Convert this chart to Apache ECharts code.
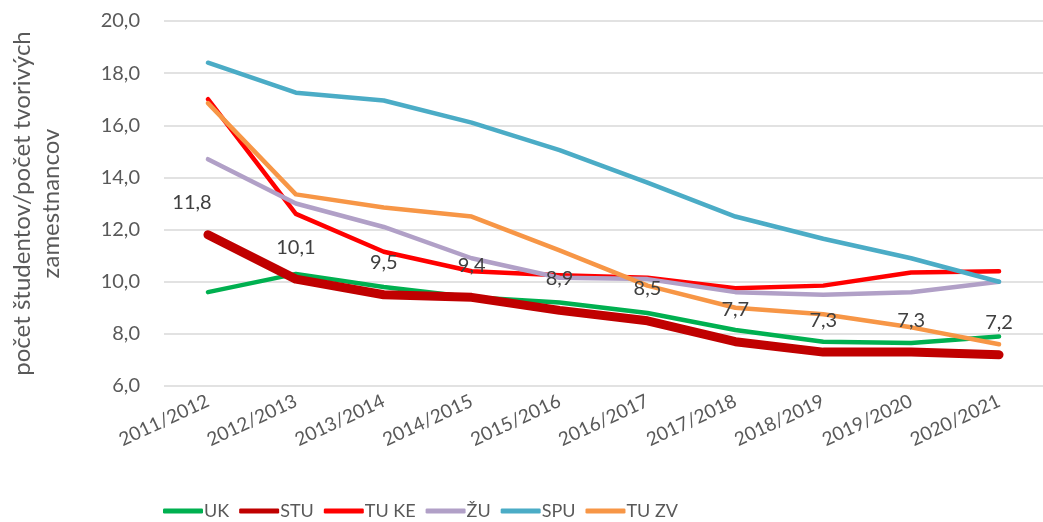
<!DOCTYPE html>
<html>
<head>
<meta charset="UTF-8">
<title></title>
<script src="https://cdn.jsdelivr.net/npm/echarts@6/dist/echarts.min.js"></script>
<style>
  html, body { margin: 0; padding: 0; background: #fff; }
  #main { width: 1043px; height: 522px; }
</style>
</head>
<body>
<div id="main"></div>
<script>
var years = ['2011/2012', '2012/2013', '2013/2014', '2014/2015', '2015/2016',
             '2016/2017', '2017/2018', '2018/2019', '2019/2020', '2020/2021'];

var uk   = [9.6, 10.3, 9.8, 9.4, 9.2, 8.8, 8.15, 7.7, 7.65, 7.9];
var stu  = [11.8, 10.1, 9.5, 9.4, 8.9, 8.5, 7.7, 7.3, 7.3, 7.2];
var tuke = [17.0, 12.6, 11.15, 10.4, 10.25, 10.15, 9.75, 9.85, 10.35, 10.4];
var zu   = [14.7, 13.0, 12.1, 10.9, 10.15, 10.1, 9.6, 9.5, 9.6, 10.0];
var spu  = [18.4, 17.25, 16.95, 16.1, 15.05, 13.8, 12.5, 11.65, 10.9, 10.0];
var tuzv = [16.85, 13.35, 12.85, 12.5, 11.2, 9.85, 9.0, 8.75, 8.25, 7.6];

var font = 'Lato';
var chart = echarts.init(document.getElementById('main'));

function fmt(v) {
    return v.toFixed(1).replace('.', ',');
}

function line(name, data, color, width, z) {
    return {
        name: name,
        type: 'line',
        data: data,
        symbol: 'circle',
        symbolSize: 0,
        z: z,
        lineStyle: { color: color, width: width, cap: 'round', join: 'round' },
        itemStyle: { color: color }
    };
}

// STU ide navrch, aby popisky neboli prekryte
var stuSeries = line('STU', stu.map(function (v, i) {
    return i === 0 ? { value: v, label: { offset: [-16, 0] } } : v;
}), '#C00000', 9, 10);
stuSeries.label = {
    show: true,
    position: 'top',
    distance: 22,
    fontFamily: font,
    fontSize: 20,
    color: '#404040',
    formatter: function (p) { return fmt(p.value); }
};

var legendNames = ['UK', 'STU', 'TU KE', 'ŽU', 'SPU', 'TU ZV'];

chart.setOption({
    animation: false,
    grid: { left: 151, top: 21, width: 906, height: 365 },
    legend: {
        top: 502,
        left: 163,
        padding: 0,
        itemWidth: 40,
        itemHeight: 5,
        itemGap: 10,
        textStyle: { fontFamily: font, fontSize: 18, color: '#595959', padding: [0, 0, 0, -4] },
        data: legendNames.map(function (n) {
            return { name: n, icon: 'roundRect' };
        })
    },
    xAxis: {
        type: 'category',
        data: years,
        boundaryGap: true,
        axisLine: { show: false },
        axisTick: { show: false },
        axisLabel: {
            rotate: 25,
            margin: 14,
            interval: 0,
            fontFamily: font,
            fontSize: 19,
            color: '#595959'
        }
    },
    yAxis: {
        type: 'value',
        min: 6,
        max: 20,
        interval: 2,
        name: 'počet študentov/počet tvorivých\nzamestnancov',
        nameLocation: 'middle',
        nameGap: 98,
        nameTextStyle: { fontFamily: font, fontSize: 24, color: '#595959', lineHeight: 29 },
        axisLine: { show: false },
        axisTick: { show: false },
        splitLine: { lineStyle: { color: '#D9D9D9', width: 1.5 } },
        axisLabel: {
            margin: 24,
            fontFamily: font,
            fontSize: 20,
            color: '#595959',
            formatter: function (v) { return fmt(v); }
        }
    },
    series: [
        line('UK', uk, '#00B050', 4.5, 2),
        stuSeries,
        line('TU KE', tuke, '#FF0000', 4.5, 4),
        line('ŽU', zu, '#B1A0C7', 4.5, 5),
        line('SPU', spu, '#4BACC6', 4.5, 6),
        line('TU ZV', tuzv, '#F79646', 4.5, 7)
    ]
});
</script>
</body>
</html>
